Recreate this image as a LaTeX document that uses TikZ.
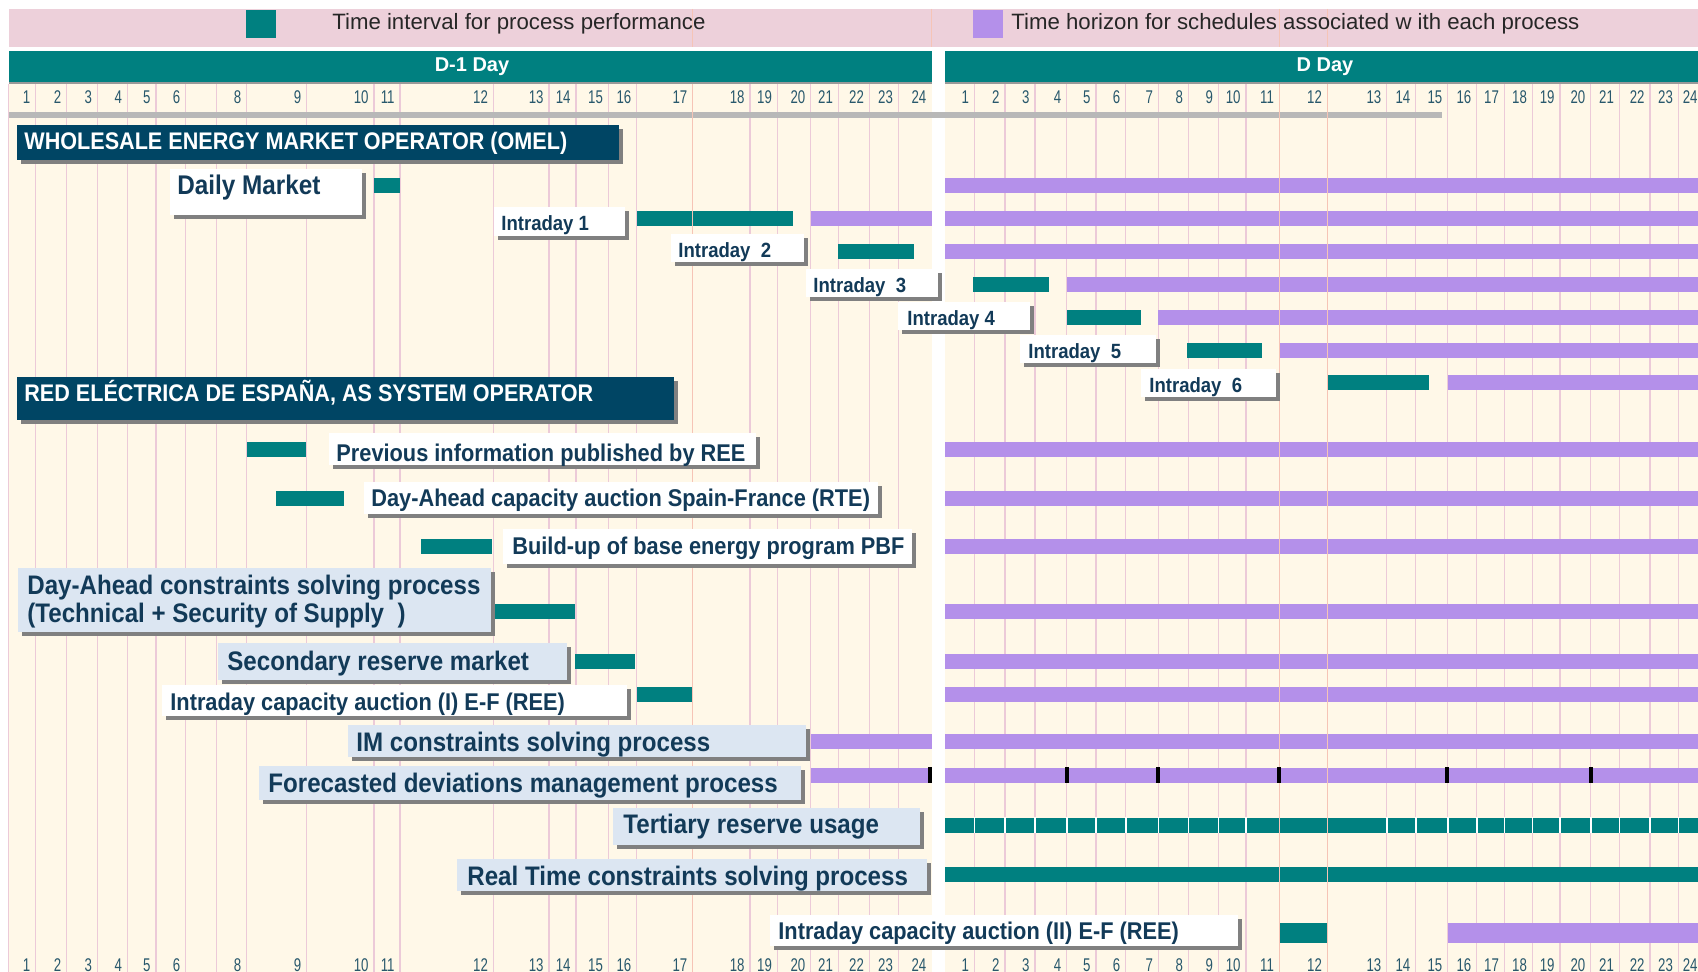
\documentclass[tikz,border=0pt]{standalone}
\usepackage{fontspec}
\setmainfont{Liberation Sans}
\newfontfamily\narrowfont[FakeStretch=0.9]{Liberation Sans}
\newfontfamily\hourfont[FakeStretch=0.72]{Liberation Sans}

\definecolor{procteal}{RGB}{0,128,128}
\definecolor{lilac}{RGB}{180,144,234}
\definecolor{navy}{RGB}{0,69,100}
\definecolor{inkblue}{RGB}{18,58,88}
\definecolor{cream}{RGB}{255,248,232}
\definecolor{legendpink}{RGB}{237,208,218}
\definecolor{gridpink}{RGB}{236,202,216}
\definecolor{salmon}{RGB}{246,196,182}
\definecolor{paleblue}{RGB}{220,230,242}
\definecolor{hourblue}{RGB}{40,88,108}

\tikzset{
	hour/.style={anchor=east, inner sep=0pt, text=hourblue, font=\hourfont\fontsize{9.2}{9}\selectfont},
	lbl/.style={anchor=mid west, inner sep=0pt, text=inkblue, font=\narrowfont\bfseries\fontsize{12.1}{14}\selectfont},
	biglbl/.style={lbl, font=\narrowfont\bfseries\fontsize{13.4}{14}\selectfont},
	idlbl/.style={lbl, font=\narrowfont\bfseries\fontsize{10.3}{12}\selectfont},
	headlbl/.style={lbl, text=white, font=\narrowfont\bfseries\fontsize{12}{14}\selectfont},
	daylbl/.style={inner sep=0pt, text=white, font=\bfseries\fontsize{10}{12}\selectfont},
	legendlbl/.style={anchor=mid west, inner sep=0pt, text=black!85, font=\fontsize{11.1}{13}\selectfont},
	boxshadow/.style={fill=black!50},
	gridline/.style={draw=gridpink, line width=0.6pt},
	hotline/.style={draw=salmon, line width=0.6pt},
}

\begin{document}
\begin{tikzpicture}[x=0.5pt, y=-0.5pt]
	\useasboundingbox (0,0) rectangle (1698,972);
	\clip (0,0) rectangle (1698,972);
	\fill[white] (0,0) rectangle (1698,972);

	% legend
	\fill[legendpink] (9,9) rectangle (1698,47);
	\foreach \s in {692.7, 931.7, 1279.3, 1327.3}
		\draw[hotline] (\s,9) -- (\s,47);
	\fill[procteal] (246,10) rectangle (276,38);
	\fill[lilac] (973,10) rectangle (1003,38);
	\node[legendlbl] (legA) at (332,24) {Time interval for process performance};
	\node[legendlbl] (legB) at (1011,24) {Time horizon for schedules associated w ith each process};

	% chart background
	\fill[cream] (9,84) rectangle (932,972);
	\fill[cream] (945,84) rectangle (1698,972);
	\foreach \g in {8.5, 35.7, 66.7, 97.3, 127.3, 156, 185.7, 216.7, 246.7, 306.7, 374, 400, 493.3, 549, 576, 608.3, 636.7, 750, 777.3, 810.7, 838.3, 869.3, 898.3,
			974.3, 1005, 1035, 1066.7, 1096, 1125.7, 1158.3, 1188.3, 1218.3, 1246, 1386.7, 1415.7, 1447.7, 1476.7, 1504.3, 1532.3, 1560, 1590.7, 1619.3, 1650, 1678.3}
		\draw[gridline] (\g,84) -- (\g,972);

	% day headers
	\fill[procteal] (9,51) rectangle (932,82);
	\fill[procteal] (945,51) rectangle (1698,82);
	\fill[black!40] (9,82) rectangle (932,84.5);
	\fill[black!40] (945,82) rectangle (1698,84.5);
	\node[daylbl] (dm1) at (472,67) {D-1 Day};
	\node[daylbl] (dd) at (1325,67) {D Day};

	% hours, top and bottom
	\foreach \e/\h [count=\k] in {35.7/1, 66.7/2, 97.3/3, 127.3/4, 156/5, 185.7/6, 246.7/8, 306.7/9, 374/10, 400/11, 493.3/12, 549/13, 576/14, 608.3/15,
			636.7/16, 692.7/17, 750/18, 777.3/19, 810.7/20, 838.3/21, 869.3/22, 898.3/23, 931.7/24} {
		\node[hour] (pt\k) at (\e-5,97) {\h};
		\node[hour] (pb\k) at (\e-5,965) {\h};
	}
	\foreach \e/\h [count=\k] in {974.3/1, 1005/2, 1035/3, 1066.7/4, 1096/5, 1125.7/6, 1158.3/7, 1188.3/8, 1218.3/9, 1246/10, 1279.3/11, 1327.3/12,
			1386.7/13, 1415.7/14, 1447.7/15, 1476.7/16, 1504.3/17, 1532.3/18, 1560/19, 1590.7/20, 1619.3/21, 1650/22, 1678.3/23, 1703/24} {
		\node[hour] (dt\k) at (\e-5,97) {\h};
		\node[hour] (db\k) at (\e-5,965) {\h};
	}
	\fill[black!28] (9,112.5) rectangle (1442,118.5);

	% process intervals
	\foreach \xa/\xb/\yc in {374/400/186, 636.7/793/219, 837.6/914/252, 973/1049/285, 1066.7/1141/318, 1187/1262/350.5, 1327.3/1429/383,
			247/306/449.5, 276/344/499, 421/492/547, 494/575/612, 575/635/662, 636.7/692.7/695, 945/1698/825, 945/1698/874}
		\fill[procteal] (\xa,\yc-7.5) rectangle (\xb,\yc+7.5);
	\fill[procteal] (1279.3,923) rectangle (1327.3,943);
	% schedule horizons
	\foreach \xa/\xb/\yc in {945/1698/186, 810.7/932/219, 945/1698/219, 945/1698/252, 1066.7/1698/285, 1158.3/1698/318, 1279.3/1698/350.5, 1447.7/1698/383,
			945/1698/449.5, 945/1698/499, 945/1698/547, 945/1698/612, 945/1698/662, 945/1698/695, 810.7/932/742, 945/1698/742, 810.7/932/775, 945/1698/775}
		\fill[lilac] (\xa,\yc-7.5) rectangle (\xb,\yc+7.5);
	\fill[lilac] (1447.7,923) rectangle (1698,943);
	\foreach \g in {974.3, 1005, 1035, 1066.7, 1096, 1125.7, 1158.3, 1188.3, 1218.3, 1246, 1386.7, 1415.7, 1447.7, 1476.7, 1504.3, 1532.3, 1560, 1590.7, 1619.3, 1650, 1678.3}
		\draw[white, line width=0.8pt] (\g,817) -- (\g,833);
	\foreach \s in {692.7, 1279.3, 1327.3}
		\draw[hotline] (\s,84) -- (\s,972);
	\foreach \t in {930, 1067, 1158, 1279, 1447, 1591}
		\fill[black] (\t-2,767) rectangle (\t+2,783);

	% boxes
	\foreach \xa/\ya/\xb/\yb/\c in {17/125/619/160/navy, 17/377/674/420/navy, 170/169/362/215/white,
			494/207/625/236/white, 671/234/804/262/white, 806/269/938/297/white, 898/302/1030/330/white, 1020/335/1156/363/white, 1141/369/1276/397/white,
			329/433/756/465/white, 364/482/878/514/white, 503/529/912/564/white, 18/568/491/632/paleblue, 218/643/567/680/paleblue,
			162/685/627/716/white, 348/725/806/757/paleblue, 259/766/801/800/paleblue, 613/808/920/845/paleblue, 457/859/927/891/paleblue,
			770/915/1238/946/white} {
		\fill[boxshadow] (\xa+4,\ya+4) rectangle (\xb+4,\yb+4);
		\fill[\c] (\xa,\ya) rectangle (\xb,\yb);
	}
	\node[headlbl] (omel) at (24,144) {WHOLESALE ENERGY MARKET OPERATOR (OMEL)};
	\node[lbl, font=\narrowfont\bfseries\fontsize{13.5}{14}\selectfont] (daily) at (177,189) {Daily Market};
	\node[idlbl] (id1) at (501,225) {Intraday 1};
	\node[idlbl] (id2) at (678,252) {Intraday\ \ 2};
	\node[idlbl] (id3) at (813,287) {Intraday\ \ 3};
	\node[idlbl] (id4) at (907,320) {Intraday 4};
	\node[idlbl] (id5) at (1028,353) {Intraday\ \ 5};
	\node[idlbl] (id6) at (1149,387) {Intraday\ \ 6};
	\node[headlbl] (ree) at (24,396) {RED ELÉCTRICA DE ESPAÑA, AS SYSTEM OPERATOR};
	\node[lbl] (prev) at (336,456) {Previous information published by REE};
	\node[lbl] (dacap) at (371,501) {Day-Ahead capacity auction Spain-France (RTE)};
	\node[lbl] (pbf) at (512,549) {Build-up of base energy program PBF};
	\node[biglbl, anchor=west, align=left] (dacon) at (27,602) {Day-Ahead constraints solving process\\(Technical + Security of Supply\ \ )};
	\node[biglbl] (secres) at (227,665) {Secondary reserve market};
	\node[lbl] (idcap1) at (170,705) {Intraday capacity auction (I) E-F (REE)};
	\node[biglbl] (imcon) at (356,746) {IM constraints solving process};
	\node[biglbl] (fdev) at (268,787) {Forecasted deviations management process};
	\node[biglbl] (terres) at (623,828) {Tertiary reserve usage};
	\node[biglbl] (rtcon) at (467,880) {Real Time constraints solving process};
	\node[lbl] (idcap2) at (778,934) {Intraday capacity auction (II) E-F (REE)};
\end{tikzpicture}
\end{document}
